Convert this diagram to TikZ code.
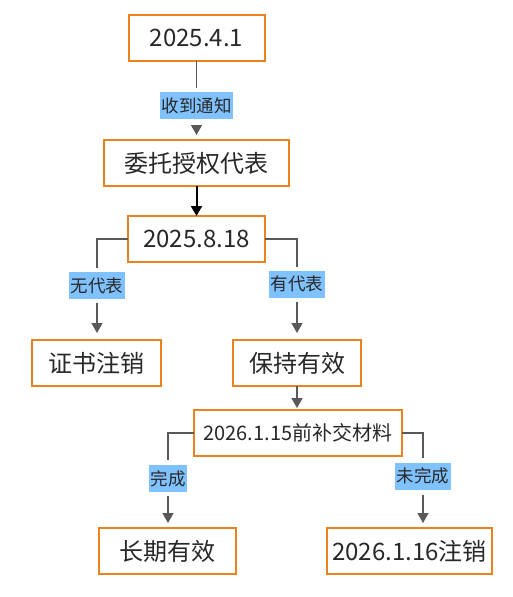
\documentclass[tikz,border=0pt]{standalone}
\usepackage{fontspec}
\setmainfont{Noto Sans CJK SC}
\usetikzlibrary{arrows.meta}
\definecolor{boxorange}{RGB}{232,131,30}
\definecolor{lblblue}{RGB}{128,194,255}
\definecolor{lnggray}{RGB}{89,89,89}
\definecolor{txtgray}{RGB}{40,40,40}
\tikzset{
  box/.style={draw=boxorange, line width=2pt, fill=white, minimum height=46pt, inner sep=0pt, outer sep=0pt, text=txtgray, font=\fontsize{24}{28}\selectfont},
  lbl/.style={fill=lblblue, minimum height=27pt, inner xsep=1.5pt, inner ysep=0pt, outer sep=0pt, text=txtgray, font=\fontsize{17.5}{20}\selectfont},
  conn/.style={draw=lnggray, line width=1.5pt},
  arr/.style={conn, -{Triangle[length=10pt,width=11pt]}},
}
\begin{document}
\begin{tikzpicture}[x=1pt,y=-1pt]
\useasboundingbox (0,0) rectangle (513,597);
% boxes
\node[box, minimum width=136pt] (b1) at (196.5,38) {2025.4.1};
\node[box, minimum width=185pt] (b2) at (196.5,163) {委托授权代表};
\node[box, minimum width=137pt] (b3) at (196.5,239) {2025.8.18};
\node[box, minimum width=129pt] (b4) at (96.5,363) {证书注销};
\node[box, minimum width=128pt] (b5) at (297,363) {保持有效};
\node[box, minimum width=208pt, font=\fontsize{20}{24}\selectfont] (b6) at (298,433) {2026.1.15前补交材料};
\node[box, minimum width=137pt] (b7) at (167.5,551) {长期有效};
\node[box, minimum width=165pt] (b8) at (409.5,551) {2026.1.16注销};
% labels
\node[lbl] (l1) at (196.5,105.5) {收到通知};
\node[lbl] (l2) at (97,285.5) {无代表};
\node[lbl] (l3) at (297,284) {有代表};
\node[lbl] (l4) at (168,478.5) {完成};
\node[lbl] (l5) at (423,476) {未完成};
% helper coordinates
\coordinate (b5t) at (297,386);
\coordinate (b6t) at (297,410);
\coordinate (b8t) at (423,528);
% connectors
\draw[conn, shorten >=4pt] (b1.south) -- (l1.north);
\draw[arr, shorten <=6pt, shorten >=5pt] (l1.south) -- (b2.north);
\draw[line width=2pt, -{Triangle[length=10pt,width=11pt]}] (b2.south) -- (b3.north);
\draw[conn, shorten >=4pt] (b3.west) -| (l2.north);
\draw[arr, shorten <=4pt, shorten >=7pt] (l2.south) -- (l2.south |- b4.north);
\draw[conn, shorten >=4pt] (b3.east) -| (l3.north);
\draw[arr, shorten <=4pt, shorten >=7pt] (l3.south) -- (l3.south |- b5.north);
\draw[arr, shorten >=2pt] (b5t) -- (b6t);
\draw[conn, shorten >=5pt] (b6.west) -| (l4.north);
\draw[arr, shorten <=4pt, shorten >=5pt] (l4.south) -- (l4.south |- b7.north);
\draw[conn, shorten >=5pt] (b6.east) -| (l5.north);
\draw[arr, shorten <=5pt, shorten >=5pt] (l5.south) -- (b8t);
\end{tikzpicture}
\end{document}
